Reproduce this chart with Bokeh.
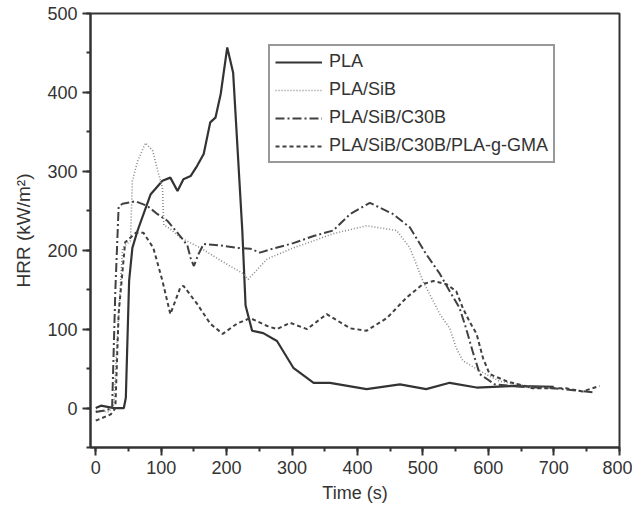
from bokeh.plotting import figure
from bokeh.models import Range1d, SingleIntervalTicker, Legend, LegendItem
from bokeh.embed import file_html
from bokeh.resources import INLINE

pla_x = [0, 8, 28, 43, 46, 51, 56, 64, 84, 102, 114, 125, 134, 145, 155, 165, 175, 183, 191, 201, 210, 224, 229, 239, 256, 277, 302, 333, 358, 414, 465, 505, 541, 582, 637, 700]
pla_y = [0, 3, 0, 0, 13, 161, 203, 225, 271, 288, 292, 275, 290, 294, 307, 322, 362, 368, 398, 457, 425, 225, 130, 98, 95, 85, 51, 32, 32, 24, 30, 24, 32, 26, 28, 27]

sib_x = [0, 20, 28, 31, 41, 53, 56, 64, 76, 87, 96, 102, 104, 114, 129, 160, 191, 226, 233, 262, 302, 333, 363, 414, 460, 480, 500, 526, 541, 551, 561, 587, 617, 660, 700]
sib_y = [-3, -5, 5, 60, 203, 212, 288, 313, 336, 326, 297, 279, 232, 227, 216, 203, 187, 170, 163, 189, 203, 212, 221, 231, 225, 203, 161, 119, 101, 76, 60, 47, 34, 28, 25]

c30b_x = [0, 15, 25, 30, 35, 41, 61, 79, 94, 110, 129, 140, 145, 150, 157, 165, 191, 216, 236, 251, 271, 302, 333, 363, 389, 419, 454, 480, 505, 526, 541, 556, 566, 576, 587, 610, 650, 700, 760]
c30b_y = [-5, -3, 0, 150, 255, 259, 262, 256, 246, 237, 218, 206, 190, 180, 195, 208, 206, 203, 202, 197, 202, 209, 218, 225, 246, 260, 246, 229, 195, 170, 148, 127, 101, 72, 43, 30, 27, 25, 20]

gma_x = [0, 23, 30, 35, 45, 61, 73, 88, 102, 114, 129, 134, 155, 175, 194, 216, 236, 262, 277, 297, 323, 353, 389, 414, 445, 475, 500, 516, 536, 551, 561, 571, 582, 592, 602, 628, 668, 719, 744, 770]
gma_y = [-16, -8, 0, 120, 210, 222, 222, 203, 161, 119, 152, 155, 132, 107, 94, 107, 114, 104, 100, 108, 100, 119, 101, 98, 114, 140, 157, 161, 157, 148, 127, 110, 94, 63, 43, 34, 25, 25, 21, 28]

labels = ["PLA", "PLA/SiB", "PLA/SiB/C30B", "PLA/SiB/C30B/PLA-g-GMA"]

FONT = "Liberation Sans"
TXT = "#333333"
W, H = 632, 510

p = figure(width=W, height=H, output_backend="svg", toolbar_location=None,
           x_range=Range1d(-8, 800.5), y_range=Range1d(-50, 500),
           min_border_left=90, min_border_right=W - 619, min_border_top=13, min_border_bottom=H - 447)
p.grid.visible = False
p.outline_line_color = "#333333"
p.outline_line_width = 2
p.background_fill_color = "white"
p.border_fill_color = "white"

p.xaxis.ticker = SingleIntervalTicker(interval=100, num_minor_ticks=2)
p.yaxis.ticker = SingleIntervalTicker(interval=100, num_minor_ticks=2)
for ax in (p.xaxis[0], p.yaxis[0]):
    ax.axis_line_width = 2
    ax.axis_line_color = "#333333"
    ax.major_tick_line_width = 2
    ax.minor_tick_line_width = 2
    ax.major_tick_line_color = "#333333"
    ax.minor_tick_line_color = "#333333"
    ax.major_tick_in = 0
    ax.minor_tick_in = 0
    ax.major_tick_out = 8
    ax.minor_tick_out = 4
    ax.major_label_text_font = FONT
    ax.major_label_text_font_size = "18px"
    ax.major_label_text_color = TXT
    ax.axis_label_text_font = FONT
    ax.axis_label_text_font_size = "18px"
    ax.axis_label_text_font_style = "normal"
    ax.axis_label_text_color = TXT
p.xaxis.axis_label = "Time (s)"
p.yaxis.axis_label = "HRR (kW/m²)"
p.yaxis.axis_label_text_font_size = "19px"
p.xaxis.major_label_standoff = 5
p.yaxis.major_label_standoff = 5
p.xaxis.axis_label_standoff = 6
p.yaxis.axis_label_standoff = 10

r1 = p.line(pla_x, pla_y, line_color="#333333", line_width=2.2)
r2 = p.line(sib_x, sib_y, line_color="#8a8a8a", line_width=1.6, line_dash="1 2")
r3 = p.line(c30b_x, c30b_y, line_color="#404040", line_width=2, line_dash="9 3 2 3")
r4 = p.line(gma_x, gma_y, line_color="#404040", line_width=2, line_dash="4 3")

legend = Legend(items=[LegendItem(label=labels[0], renderers=[r1]),
                       LegendItem(label=labels[1], renderers=[r2]),
                       LegendItem(label=labels[2], renderers=[r3]),
                       LegendItem(label=labels[3], renderers=[r4])],
                location=(178, 284))
legend.label_text_font = FONT
legend.label_text_font_size = "18px"
legend.label_text_color = TXT
legend.glyph_width = 47
legend.glyph_height = 20
legend.label_height = 20
legend.spacing = 7
legend.padding = 5
legend.margin = 0
legend.label_standoff = 7
legend.border_line_color = "#333333"
legend.border_line_width = 2
legend.background_fill_alpha = 1
p.add_layout(legend, "center")

open("out.html", "w").write(file_html(p, INLINE))
